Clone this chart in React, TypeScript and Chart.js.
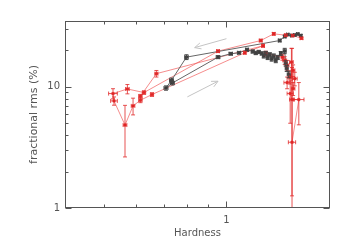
import { useEffect, useRef } from "react";
import { Chart, registerables } from "chart.js";

Chart.register(...registerables);

// ---- axis ranges & ticks ----
const xRange = [0.4, 1.8];
const yRange = [1, 35];
const xLabelTicks = [1];
const yLabelTicks = [1, 10];
const xMajorTicks = [1];
const xMinorTicks = [0.5, 0.6, 0.7, 0.8, 0.9];
const yMajorTicks = [1, 10];
const yMinorTicks = [2, 3, 4, 5, 6, 7, 8, 9, 20, 30];

// ---- black series ----
const blackX = [1.525, 1.499, 1.474, 1.449, 1.416, 1.392, 1.353, 0.797, 0.732, 0.7096, 0.7358, 0.9535, 1.0247, 1.074, 1.124, 1.161, 1.181, 1.201, 1.222, 1.236, 1.25, 1.264, 1.279, 1.293, 1.308, 1.323, 1.338, 1.361, 1.392, 1.4, 1.408, 1.424];
const blackY = [26.55, 27.32, 26.81, 26.55, 27.06, 26.05, 24.15, 17.61, 11.33, 9.79, 10.77, 17.61, 18.78, 19.13, 20.26, 19.61, 19.06, 19.43, 18.89, 18.01, 19.06, 17.51, 18.53, 17.02, 18.01, 16.54, 17.51, 18.89, 19.81, 15.63, 14.22, 12.69];
const blackYErr = [0.5, 0.5, 0.5, 0.5, 0.5, 0.6, 0.6, 0.8, 0.5, 0.4, 0.4, 0.5, 0.5, 0.5, 0.6, 0.6, 0.6, 0.6, 0.6, 0.7, 0.6, 0.7, 0.6, 0.7, 0.7, 0.7, 0.7, 0.7, 1.0, 0.8, 0.8, 0.8];
const blackXErr = [0.01, 0.01, 0.01, 0.01, 0.01, 0.01, 0.01, 0.008, 0.008, 0.008, 0.008, 0.01, 0.01, 0.01, 0.01, 0.01, 0.01, 0.01, 0.01, 0.01, 0.01, 0.01, 0.01, 0.01, 0.01, 0.01, 0.01, 0.01, 0.012, 0.012, 0.012, 0.012];

// ---- red series, main track ----
const red1X = [1.531, 1.457, 1.4, 1.308, 1.215, 0.9535, 0.6263, 0.57, 0.5253, 0.5283, 0.5623, 0.5886, 0.6137, 0.6554, 1.11, 1.231, 0.672, 0.6137];
const red1Y = [25.22, 26.55, 26.71, 27.41, 24.15, 19.72, 8.98, 9.61, 8.81, 7.66, 4.84, 6.97, 7.76, 8.65, 19.13, 21.85, 12.86, 8.37];
const red1YErr = [0.5, 0.5, 0.6, 0.7, 0.6, 0.5, 0.3, 0.85, 0.85, 0.6, 2.2, 1.1, 0.35, 0.3, 0.5, 0.6, 0.8, 0.3];
const red1XErr = [0.012, 0.01, 0.01, 0.01, 0.01, 0.008, 0.006, 0.006, 0.013, 0.01, 0.006, 0.006, 0.006, 0.006, 0.008, 0.01, 0.006, 0.006];

// ---- red series, hard-state cluster ----
const red2X = [1.25, 1.374, 1.392, 1.411, 1.446, 1.46, 1.433, 1.411, 1.474, 1.46, 1.436, 1.451, 1.508, 1.451];
const red2Y = [18.89, 17.61, 16.54, 15.05, 16.02, 13.69, 12.06, 10.85, 11.7, 9.68, 8.81, 7.86, 7.86, 3.49];
const red2YErrHi = [0.8, 1.0, 1.2, 1.5, 4.8, 1.5, 1.5, 1.2, 1.5, 1.2, 3.8, 6.6, 3.0, 17.3];
const red2YErrLo = [0.8, 1.0, 1.2, 1.5, 4.0, 1.5, 1.5, 1.2, 1.5, 1.2, 3.8, 6.6, 3.0, 3.4];
const red2XErr = [0.01, 0.01, 0.015, 0.015, 0.015, 0.015, 0.015, 0.025, 0.02, 0.015, 0.025, 0.02, 0.045, 0.03];

// ---- direction arrows (data coords: tail -> head) ----
const arrowUpperX = [1.0, 0.835];
const arrowUpperY = [25.0, 21.1];
const arrowLowerX = [0.801, 0.9535];
const arrowLowerY = [8.27, 11.14];

const FONT = "'DejaVu Sans', sans-serif";
const TEXT = "#555";

const pts = (xs: number[], ys: number[]) => xs.map((x, i) => ({ x, y: ys[i] }));

const decorPlugin = {
  id: "decor",
  afterDatasetsDraw(chart: any) {
    const { ctx, chartArea: a, scales } = chart;
    const xs = scales.x;
    const ys = scales.y;
    ctx.save();
    ctx.beginPath();
    ctx.rect(a.left, a.top, a.right - a.left, a.bottom - a.top);
    ctx.clip();
    chart.data.datasets.forEach((ds: any) => {
      ctx.strokeStyle = ds.errColor;
      ctx.lineWidth = 1;
      ds.data.forEach((p: any, i: number) => {
        const px = xs.getPixelForValue(p.x);
        const py = ys.getPixelForValue(p.y);
        const yTop = ys.getPixelForValue(p.y + ds.errYHi[i]);
        const yBot = ys.getPixelForValue(Math.max(p.y - ds.errYLo[i], 0.05));
        const xe = ds.errX[i];
        const xL = xs.getPixelForValue(p.x - xe);
        const xR = xs.getPixelForValue(p.x + xe);
        ctx.beginPath();
        ctx.moveTo(px, yTop);
        ctx.lineTo(px, yBot);
        ctx.moveTo(px - 2, yTop);
        ctx.lineTo(px + 2, yTop);
        ctx.moveTo(px - 2, yBot);
        ctx.lineTo(px + 2, yBot);
        ctx.moveTo(xL, py);
        ctx.lineTo(xR, py);
        ctx.moveTo(xL, py - 2);
        ctx.lineTo(xL, py + 2);
        ctx.moveTo(xR, py - 2);
        ctx.lineTo(xR, py + 2);
        ctx.stroke();
      });
    });
    const drawArrow = (ax: number[], ay: number[]) => {
      const x0 = xs.getPixelForValue(ax[0]);
      const y0 = ys.getPixelForValue(ay[0]);
      const x1 = xs.getPixelForValue(ax[1]);
      const y1 = ys.getPixelForValue(ay[1]);
      const ang = Math.atan2(y1 - y0, x1 - x0);
      const h = 7;
      ctx.strokeStyle = "#c4c4c4";
      ctx.lineWidth = 1;
      ctx.beginPath();
      ctx.moveTo(x0, y0);
      ctx.lineTo(x1, y1);
      ctx.moveTo(x1, y1);
      ctx.lineTo(x1 - h * Math.cos(ang - 0.45), y1 - h * Math.sin(ang - 0.45));
      ctx.moveTo(x1, y1);
      ctx.lineTo(x1 - h * Math.cos(ang + 0.45), y1 - h * Math.sin(ang + 0.45));
      ctx.stroke();
    };
    drawArrow(arrowUpperX, arrowUpperY);
    drawArrow(arrowLowerX, arrowLowerY);
    ctx.restore();

    ctx.save();
    ctx.strokeStyle = "#555";
    ctx.lineWidth = 1;
    const L = Math.round(a.left) + 0.5;
    const R = Math.round(a.right) - 0.5;
    const T = Math.round(a.top) + 0.5;
    const B = Math.round(a.bottom) - 0.5;
    ctx.strokeRect(L, T, R - L, B - T);
    ctx.beginPath();
    const xt = (v: number, len: number) => {
      const p = Math.round(xs.getPixelForValue(v)) + 0.5;
      ctx.moveTo(p, B);
      ctx.lineTo(p, B - len);
      ctx.moveTo(p, T);
      ctx.lineTo(p, T + len);
    };
    const yt = (v: number, len: number) => {
      const p = Math.round(ys.getPixelForValue(v)) + 0.5;
      ctx.moveTo(L, p);
      ctx.lineTo(L + len, p);
      ctx.moveTo(R, p);
      ctx.lineTo(R - len, p);
    };
    xMajorTicks.forEach((v) => xt(v, 6));
    xMinorTicks.forEach((v) => xt(v, 3));
    yMajorTicks.forEach((v) => yt(v, 6));
    yMinorTicks.forEach((v) => yt(v, 3));
    ctx.stroke();
    ctx.restore();
  },
};

export default function App() {
  const ref = useRef<HTMLCanvasElement>(null);
  useEffect(() => {
    const redLine = "rgba(240, 80, 80, 0.65)";
    const redPt = "#dc2020";
    const redErr = "rgba(225, 40, 40, 0.8)";
    const chart = new Chart(ref.current as HTMLCanvasElement, {
      type: "scatter",
      data: {
        datasets: [
          {
            data: pts(red2X, red2Y),
            showLine: true,
            borderColor: redLine,
            borderWidth: 1,
            pointStyle: "rect",
            pointRadius: 1.7,
            pointBackgroundColor: redPt,
            pointBorderColor: redPt,
            pointBorderWidth: 0.5,
            errColor: redErr,
            errYHi: red2YErrHi,
            errYLo: red2YErrLo,
            errX: red2XErr,
          } as any,
          {
            data: pts(blackX, blackY),
            showLine: true,
            borderColor: "#666",
            borderWidth: 1,
            pointStyle: "rect",
            pointRadius: 1.7,
            pointBackgroundColor: "#222",
            pointBorderColor: "#222",
            pointBorderWidth: 0.5,
            errColor: "#444",
            errYHi: blackYErr,
            errYLo: blackYErr,
            errX: blackXErr,
          } as any,
          {
            data: pts(red1X, red1Y),
            showLine: true,
            borderColor: redLine,
            borderWidth: 1,
            pointStyle: "rect",
            pointRadius: 1.7,
            pointBackgroundColor: redPt,
            pointBorderColor: redPt,
            pointBorderWidth: 0.5,
            errColor: redErr,
            errYHi: red1YErr,
            errYLo: red1YErr,
            errX: red1XErr,
          } as any,
        ],
      },
      options: {
        responsive: false,
        animation: false,
        devicePixelRatio: 1,
        events: [],
        layout: { padding: { top: 21, right: 20, left: 0, bottom: 0 } },
        plugins: { legend: { display: false }, tooltip: { enabled: false } },
        scales: {
          x: {
            type: "logarithmic",
            position: "bottom",
            min: xRange[0],
            max: xRange[1],
            grid: { display: false, drawTicks: false },
            border: { display: false },
            ticks: {
              color: TEXT,
              font: { family: FONT, size: 10 },
              padding: 6,
              autoSkip: false,
              maxRotation: 0,
              callback: (v: any) => String(v),
            },
            afterBuildTicks: (s: any) => {
              s.ticks = xLabelTicks.map((v) => ({ value: v }));
            },
            afterFit: (s: any) => {
              s.height = 42;
            },
            title: {
              display: true,
              text: "Hardness",
              color: TEXT,
              font: { family: FONT, size: 10 },
              padding: { top: 0, bottom: 11 },
            },
          },
          y: {
            type: "logarithmic",
            position: "left",
            min: yRange[0],
            max: yRange[1],
            grid: { display: false, drawTicks: false },
            border: { display: false },
            ticks: {
              color: TEXT,
              font: { family: FONT, size: 10 },
              padding: 5,
              autoSkip: false,
              callback: (v: any) => String(v),
            },
            afterBuildTicks: (s: any) => {
              s.ticks = yLabelTicks.map((v) => ({ value: v }));
            },
            afterFit: (s: any) => {
              s.width = 65;
            },
            title: {
              display: true,
              text: "fractional rms (%)",
              color: TEXT,
              font: { family: FONT, size: 11 },
              padding: { top: 28, bottom: 0 },
            },
          },
        },
      } as any,
      plugins: [decorPlugin],
    });
    return () => chart.destroy();
  }, []);
  return (
    <div style={{ position: "fixed", left: 0, top: 0, width: 350, height: 250, background: "#fff" }}>
      <canvas ref={ref} width={350} height={250} style={{ display: "block", width: 350, height: 250 }} />
    </div>
  );
}
